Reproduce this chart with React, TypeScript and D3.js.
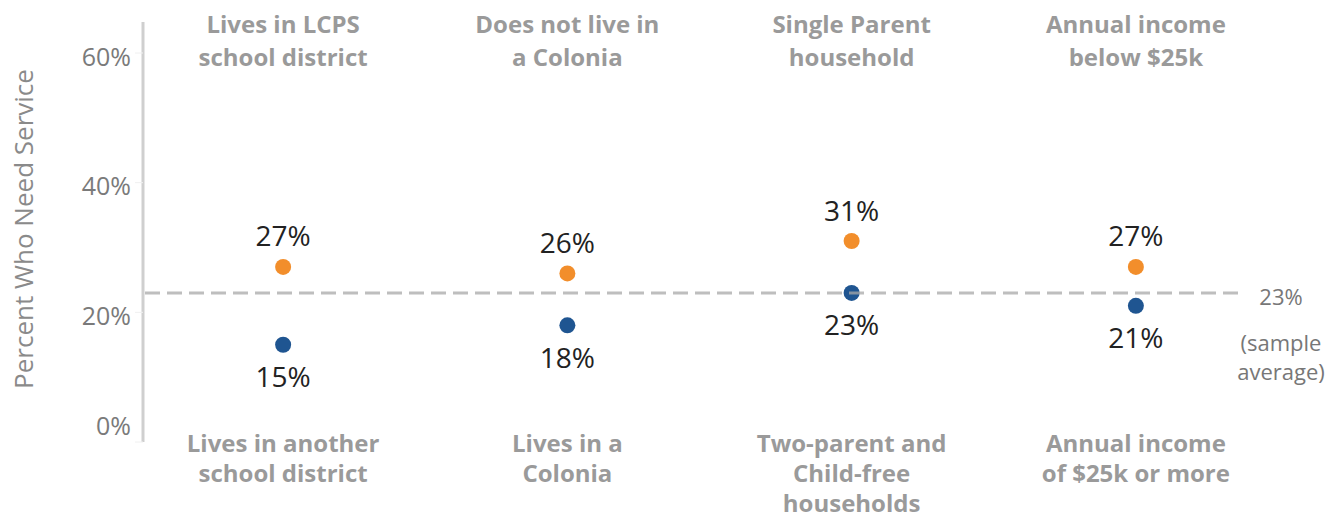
import React from "react";
import * as d3 from "d3";

const categoriesTop = [
  ["Lives in LCPS", "school district"],
  ["Does not live in", "a Colonia"],
  ["Single Parent", "household"],
  ["Annual income", "below $25k"],
];
const categoriesBottom = [
  ["Lives in another", "school district"],
  ["Lives in a", "Colonia"],
  ["Two-parent and", "Child-free", "households"],
  ["Annual income", "of $25k or more"],
];
const topValues = [27, 26, 31, 27];
const bottomValues = [15, 18, 23, 21];
const sampleAverage = 23;
const yTicks = [0, 20, 40, 60];

const W = 1333;
const H = 521;
const FONT = "'Open Sans', 'Noto Sans', sans-serif";

export default function App() {
  const x = d3.scaleBand<number>().domain([0, 1, 2, 3]).range([141, 1278]);
  const y = d3.scaleLinear().domain([0, 60]).range([442, 53]);
  const axisX = 143;
  const cx = (i: number) => (x(i) as number) + x.bandwidth() / 2;

  return (
    <svg width={W} height={H} style={{ position: "absolute", left: 0, top: 0, background: "#fff" }}>
      {/* y axis title */}
      <text
        transform={`translate(33,229) rotate(-90)`}
        textAnchor="middle"
        fontFamily={FONT}
        fontSize={26}
        fill="#8a8a8a"
      >
        Percent Who Need Service
      </text>
      {/* axis line */}
      <line x1={axisX} x2={axisX} y1={y(64.8)} y2={y(0)} stroke="#cfcfcf" strokeWidth={3} />
      {yTicks.map((t) => (
        <g key={t}>
          <line x1={axisX - 8} x2={axisX} y1={y(t)} y2={y(t)} stroke="#f0f0f0" strokeWidth={1} />
          <text
            x={131}
            y={t === 0 ? y(t) - 14 : y(t) + 6}
            textAnchor="end"
            dominantBaseline="middle"
            fontFamily={FONT}
            fontSize={25}
            fill="#7a7a7a"
          >
            {t}%
          </text>
        </g>
      ))}
      {/* category labels */}
      {categoriesTop.map((lines, i) =>
        lines.map((l, j) => (
          <text key={`t${i}${j}`} x={cx(i)} y={27 + j * 32.5} textAnchor="middle" dominantBaseline="middle" fontFamily={FONT} fontWeight={700} fontSize={24} fill="#9a9a9a">
            {l}
          </text>
        ))
      )}
      {categoriesBottom.map((lines, i) =>
        lines.map((l, j) => (
          <text key={`b${i}${j}`} x={cx(i)} y={446 + j * 30} textAnchor="middle" dominantBaseline="middle" fontFamily={FONT} fontWeight={700} fontSize={24} fill="#9a9a9a">
            {l}
          </text>
        ))
      )}
      {/* dots */}
      {topValues.map((v, i) => (
        <g key={`o${i}`}>
          <circle cx={cx(i)} cy={y(v)} r={8} fill="#f28e2b" />
          <text x={cx(i)} y={y(v) - 28} textAnchor="middle" dominantBaseline="middle" fontFamily={FONT} fontSize={28} fill="#222">
            {v}%
          </text>
        </g>
      ))}
      {bottomValues.map((v, i) => (
        <g key={`b${i}`}>
          <circle cx={cx(i)} cy={y(v)} r={8} fill="#1f5591" />
          <text x={cx(i)} y={y(v) + 35} textAnchor="middle" dominantBaseline="middle" fontFamily={FONT} fontSize={28} fill="#222">
            {v}%
          </text>
        </g>
      ))}
      {/* sample average line */}
      <line
        x1={axisX + 2}
        x2={1245}
        y1={y(sampleAverage)}
        y2={y(sampleAverage)}
        stroke="#a8a8a8"
        strokeOpacity={0.75}
        strokeWidth={3}
        strokeDasharray="15 7"
      />
      <text x={1281} y={y(sampleAverage) + 6} textAnchor="middle" dominantBaseline="middle" fontFamily={FONT} fontSize={22} fill="#777">
        {sampleAverage}%
      </text>
      <text x={1281} y={y(sampleAverage) + 52} textAnchor="middle" dominantBaseline="middle" fontFamily={FONT} fontSize={22} fill="#777">
        (sample
      </text>
      <text x={1281} y={y(sampleAverage) + 81} textAnchor="middle" dominantBaseline="middle" fontFamily={FONT} fontSize={22} fill="#777">
        average)
      </text>
    </svg>
  );
}
